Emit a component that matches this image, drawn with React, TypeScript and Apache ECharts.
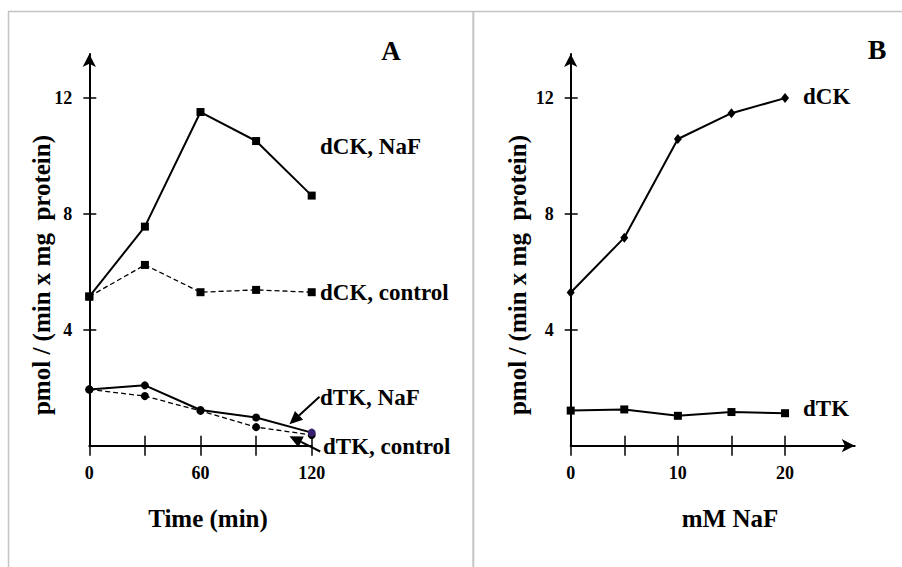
import React, { useEffect, useRef } from 'react';
import * as echarts from 'echarts';

// Panel A: time course
const timeMin = [0, 30, 60, 90, 120];
const dCKNaF = [5.14, 7.55, 11.5, 10.5, 8.62];
const dCKControl = [5.14, 6.23, 5.29, 5.37, 5.29];
const dTKNaF = [1.94, 2.08, 1.23, 0.97, 0.45];
const dTKControl = [1.94, 1.71, 1.2, 0.64, 0.37];
const timeTicks = [0, 30, 60, 90, 120];
const timeLabels = [0, 60, 120];

// Panel B: NaF dose
const mMNaF = [0, 5, 10, 15, 20];
const dCKDose = [5.28, 7.17, 10.57, 11.46, 11.98];
const dTKDose = [1.21, 1.25, 1.03, 1.16, 1.12];
const doseTicks = [0, 5, 10, 15, 20];
const doseLabels = [0, 10, 20];

const yTicks = [4, 8, 12];

// annotation arrows in panel A: [fromX, fromY, toX, toY] in data units
const arrowsA = [
  [124.2, 1.69, 108, 0.74],
  [124.6, -0.2, 108, 0.33],
];

const FONT = 'Liberation Serif';

export default function App() {
  const ref = useRef<HTMLDivElement>(null);
  useEffect(() => {
    document.body.style.margin = '0';
    const chart = echarts.init(ref.current!, null, { renderer: 'svg' });

    const pair = (xs: number[], ys: number[]) => xs.map((x, i) => [x, ys[i]]);
    const lbl = { fontFamily: FONT, fontWeight: 'bold', fontSize: 18, color: '#000' };

    const mkX = (grid: number, max: number, ticks: number[], labels: number[], arrow: boolean) => [
      {
        type: 'value', gridIndex: grid, min: 0, max, position: 'bottom',
        axisLine: {
          show: true, onZero: false,
          lineStyle: { color: '#000', width: 2 },
          symbol: arrow ? ['none', 'arrow'] : ['none', 'none'],
          symbolSize: [10, 13],
        },
        axisTick: { show: true, customValues: ticks, inside: false, length: 10, lineStyle: { color: '#000', width: 1.5 } },
        axisLabel: { show: true, customValues: labels, margin: 18, ...lbl },
        splitLine: { show: false },
      },
      {
        type: 'value', gridIndex: grid, min: 0, max, position: 'bottom',
        axisLine: { show: false, onZero: false },
        axisTick: { show: true, customValues: ticks, inside: true, length: 10, lineStyle: { color: '#000', width: 1.5 } },
        axisLabel: { show: false },
        splitLine: { show: false },
      },
    ];
    const mkY = (grid: number) => [
      {
        type: 'value', gridIndex: grid, min: 0, max: 13.5, position: 'left',
        axisLine: {
          show: true, onZero: false,
          lineStyle: { color: '#000', width: 2 },
          symbol: ['none', 'arrow'], symbolSize: [10, 13],
        },
        axisTick: { show: true, customValues: yTicks, inside: false, length: 6, lineStyle: { color: '#000', width: 1.5 } },
        axisLabel: { show: true, customValues: yTicks, margin: 17, ...lbl },
        splitLine: { show: false },
      },
      {
        type: 'value', gridIndex: grid, min: 0, max: 13.5, position: 'left',
        axisLine: { show: false, onZero: false },
        axisTick: { show: true, customValues: yTicks, inside: true, length: 7, lineStyle: { color: '#000', width: 1.5 } },
        axisLabel: { show: false },
        splitLine: { show: false },
      },
    ];

    const solid = { color: '#000', width: 2, type: 'solid' };
    const dashed = { color: '#000', width: 1.3, type: [5, 3] };

    const dTKNaFData: any[] = pair(timeMin, dTKNaF);
    dTKNaFData[4] = { value: dTKNaFData[4], itemStyle: { color: '#352070' } };

    const seriesText = (x: number, y: number, text: string, size = 23, align = 'left') => ({
      type: 'text', x, y, silent: true,
      style: { text, fontFamily: FONT, fontWeight: 'bold', fontSize: size, fill: '#000', align, verticalAlign: 'middle' },
    });

    const option: any = {
      animation: false,
      backgroundColor: '#fff',
      textStyle: { fontFamily: FONT },
      grid: [
        { left: 89.3, top: 54, width: 222.4, height: 391.7 },
        { left: 570.7, top: 54, width: 284, height: 391.7 },
      ],
      xAxis: [...mkX(0, 120, timeTicks, timeLabels, false), ...mkX(1, 26.5, doseTicks, doseLabels, true)],
      yAxis: [...mkY(0), ...mkY(1)],
      series: [
        {
          type: 'line', name: 'dCK, NaF', xAxisIndex: 0, yAxisIndex: 0,
          data: pair(timeMin, dCKNaF), symbol: 'rect', symbolSize: 8,
          lineStyle: solid, itemStyle: { color: '#000' },
        },
        {
          type: 'line', name: 'dCK, control', xAxisIndex: 0, yAxisIndex: 0,
          data: pair(timeMin, dCKControl), symbol: 'rect', symbolSize: 8,
          lineStyle: dashed, itemStyle: { color: '#000' },
        },
        {
          type: 'line', name: 'dTK, control', xAxisIndex: 0, yAxisIndex: 0,
          data: pair(timeMin, dTKControl), symbol: 'circle', symbolSize: 8,
          lineStyle: dashed, itemStyle: { color: '#000' },
        },
        {
          type: 'line', name: 'dTK, NaF', xAxisIndex: 0, yAxisIndex: 0,
          data: dTKNaFData, symbol: 'circle', symbolSize: 8,
          lineStyle: solid, itemStyle: { color: '#000' },
        },
        {
          type: 'line', name: 'dCK', xAxisIndex: 2, yAxisIndex: 2,
          data: pair(mMNaF, dCKDose), symbol: 'diamond', symbolSize: [8, 10],
          lineStyle: solid, itemStyle: { color: '#000' },
        },
        {
          type: 'line', name: 'dTK', xAxisIndex: 2, yAxisIndex: 2,
          data: pair(mMNaF, dTKDose), symbol: 'rect', symbolSize: 8,
          lineStyle: solid, itemStyle: { color: '#000' },
        },
        {
          type: 'custom', name: 'arrows', xAxisIndex: 0, yAxisIndex: 0, clip: false, silent: true,
          encode: { x: [0, 2], y: [1, 3] },
          data: arrowsA,
          renderItem: (params: any, api: any) => {
            const p1 = api.coord([api.value(0), api.value(1)]);
            const p2 = api.coord([api.value(2), api.value(3)]);
            const dx = p2[0] - p1[0];
            const dy = p2[1] - p1[1];
            const len = Math.sqrt(dx * dx + dy * dy);
            const ux = dx / len, uy = dy / len;
            const hl = 13, hw = 6;
            const bx = p2[0] - ux * hl, by = p2[1] - uy * hl;
            return {
              type: 'group',
              children: [
                { type: 'line', shape: { x1: p1[0], y1: p1[1], x2: bx, y2: by }, style: { stroke: '#000', lineWidth: 2 } },
                {
                  type: 'polygon',
                  shape: { points: [[p2[0], p2[1]], [bx - uy * hw, by + ux * hw], [bx + uy * hw, by - ux * hw]] },
                  style: { fill: '#000' },
                },
              ],
            };
          },
        },
      ],
      graphic: [
        { type: 'line', silent: true, shape: { x1: 8, y1: 11.5, x2: 902, y2: 11.5 }, style: { stroke: '#c4c4c4', lineWidth: 1.5 } },
        { type: 'line', silent: true, shape: { x1: 8.5, y1: 11, x2: 8.5, y2: 567 }, style: { stroke: '#c4c4c4', lineWidth: 1.5 } },
        { type: 'line', silent: true, shape: { x1: 473.3, y1: 11, x2: 473.3, y2: 567 }, style: { stroke: '#c4c4c4', lineWidth: 2 } },
        seriesText(320, 146, 'dCK, NaF'),
        seriesText(320, 292, 'dCK, control'),
        seriesText(320, 397, 'dTK, NaF'),
        seriesText(323, 446, 'dTK, control'),
        seriesText(803, 96, 'dCK'),
        seriesText(803, 408, 'dTK'),
        seriesText(391, 51, 'A', 27, 'center'),
        seriesText(877, 49, 'B', 28, 'center'),
        seriesText(208, 518, 'Time (min)', 25, 'center'),
        seriesText(730, 518, 'mM NaF', 25, 'center'),
        {
          type: 'text', x: 41, y: 275, rotation: Math.PI / 2, silent: true,
          style: { text: 'pmol / (min x mg  protein)', fontFamily: FONT, fontWeight: 'bold', fontSize: 25, fill: '#000', align: 'center', verticalAlign: 'middle' },
        },
        {
          type: 'text', x: 517, y: 275, rotation: Math.PI / 2, silent: true,
          style: { text: 'pmol / (min x mg  protein)', fontFamily: FONT, fontWeight: 'bold', fontSize: 25, fill: '#000', align: 'center', verticalAlign: 'middle' },
        },
      ],
    };
    chart.setOption(option);
    return () => chart.dispose();
  }, []);
  return <div ref={ref} style={{ width: 902, height: 567 }} />;
}
